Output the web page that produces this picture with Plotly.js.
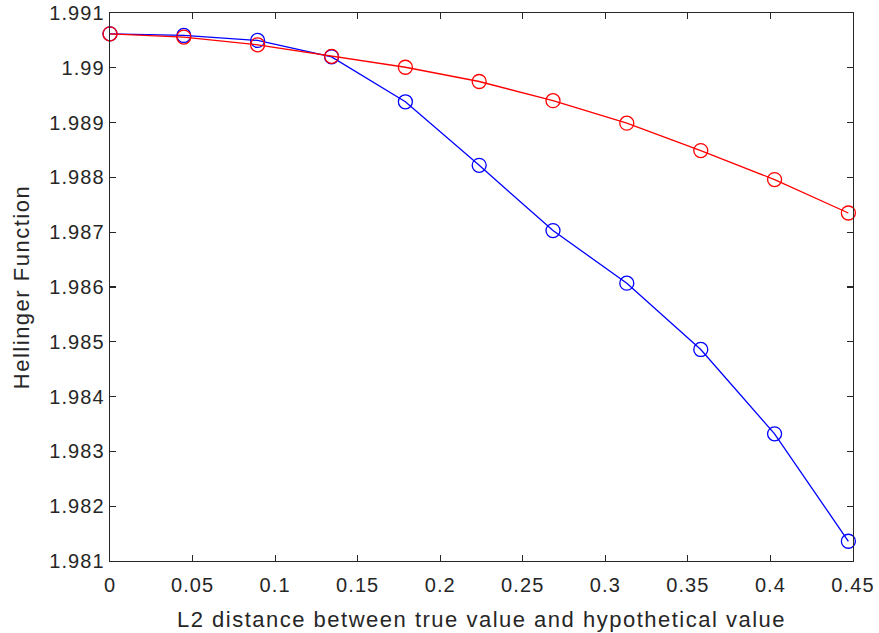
<!DOCTYPE html>
<html>
<head>
<meta charset="utf-8">
<script src="https://cdn.plot.ly/plotly-3.0.1.min.js"></script>
<style>
  html, body { margin: 0; padding: 0; background: #ffffff; }
  #chart { width: 879px; height: 633px; }
  /* slightly open tracking on the axis text */
  #chart .xtick text, #chart .ytick text { letter-spacing: 1.1px; }
  #chart .g-xtitle text, #chart .g-ytitle text { letter-spacing: 1.5px; }
</style>
</head>
<body>
<div id="chart"></div>
<script>
// L2 distance between the true parameter and the hypothetical one
const l2Distance = [0, 0.0447, 0.0894, 0.1342, 0.1789, 0.2236, 0.2683, 0.3130, 0.3578, 0.4025, 0.4472];

// Hellinger function values for the two cases
const hellingerBlue = [1.99062, 1.99059, 1.99050, 1.99020, 1.98938, 1.98822, 1.98703, 1.98607, 1.98486, 1.98332, 1.98136];
const hellingerRed  = [1.99062, 1.99056, 1.99042, 1.99021, 1.99001, 1.98975, 1.98940, 1.98899, 1.98849, 1.98796, 1.98735];

// Axis ticks
const xTickVals = [0, 0.05, 0.1, 0.15, 0.2, 0.25, 0.3, 0.35, 0.4, 0.45];
const xTickText = ['0', '0.05', '0.1', '0.15', '0.2', '0.25', '0.3', '0.35', '0.4', '0.45'];
const yTickVals = [1.981, 1.982, 1.983, 1.984, 1.985, 1.986, 1.987, 1.988, 1.989, 1.99, 1.991];
const yTickText = ['1.981', '1.982', '1.983', '1.984', '1.985', '1.986', '1.987', '1.988', '1.989', '1.99', '1.991'];

const axisColor = '#262626';
const fontFamily = '"Liberation Sans", Arial, Helvetica, sans-serif';

function series(y, color) {
  return {
    x: l2Distance,
    y: y,
    type: 'scatter',
    mode: 'lines+markers',
    line: { color: color, width: 1.3 },
    marker: {
      symbol: 'circle-open',
      size: 14,
      color: color,
      line: { color: color, width: 1.3 }
    },
    cliponaxis: false,
    showlegend: false
  };
}

const data = [
  series(hellingerBlue, '#0000ff'),
  series(hellingerRed, '#ff0000')
];

const baseAxis = {
  showline: true,
  linecolor: axisColor,
  linewidth: 1.2,
  mirror: 'allticks',
  ticks: 'inside',
  ticklen: 6,
  tickwidth: 1.2,
  tickcolor: axisColor,
  showgrid: false,
  zeroline: false,
  tickmode: 'array',
  tickfont: { family: fontFamily, size: 20, color: axisColor }
};

const layout = {
  width: 879,
  height: 633,
  margin: { l: 110, r: 26, t: 13, b: 72 },
  paper_bgcolor: '#ffffff',
  plot_bgcolor: '#ffffff',
  xaxis: Object.assign({}, baseAxis, {
    range: [0, 0.45],
    tickvals: xTickVals,
    ticktext: xTickText,
    ticklabelstandoff: 6,
    title: {
      text: 'L2 distance between true value and hypothetical value',
      font: { family: fontFamily, size: 22, color: axisColor },
      standoff: 16
    }
  }),
  yaxis: Object.assign({}, baseAxis, {
    range: [1.981, 1.991],
    tickvals: yTickVals,
    ticktext: yTickText,
    title: {
      text: 'Hellinger Function',
      font: { family: fontFamily, size: 22, color: axisColor },
      standoff: 19
    }
  })
};

Plotly.newPlot('chart', data, layout, { staticPlot: true, displayModeBar: false });
</script>
</body>
</html>
